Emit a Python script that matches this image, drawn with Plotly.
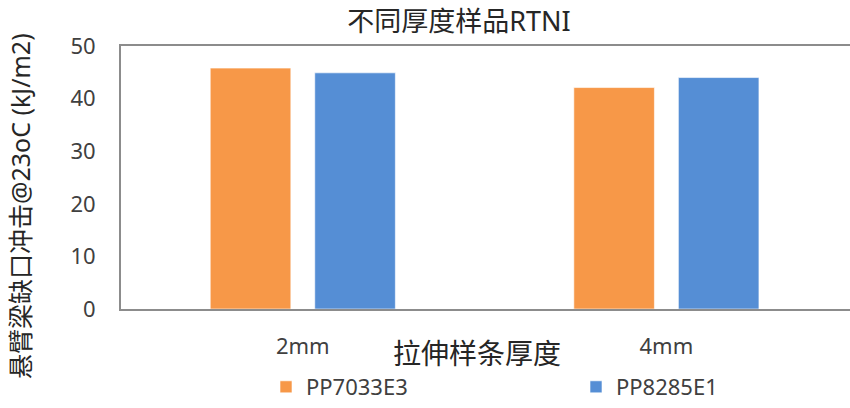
import plotly.graph_objects as go

# Sample thickness categories and notched Izod impact values (kJ/m2)
categories = ["2mm", "4mm"]
series_names = ["PP7033E3", "PP8285E1"]
pp7033e3 = [45.8, 42.1]
pp8285e1 = [44.9, 44.0]
y_ticks = [0, 10, 20, 30, 40, 50]

W, H = 850, 408
L, R, T, B = 121, 0, 46, 99

FONT = "Noto Sans, Noto Sans CJK SC, sans-serif"
TEXT = "#404040"
colors = ["#F79848", "#558ED5"]

fig = go.Figure()
for name, vals, col in zip(series_names, [pp7033e3, pp8285e1], colors):
    fig.add_trace(go.Bar(
        x=categories, y=vals, name=name,
        marker=dict(color=col, line=dict(color="rgba(255,255,255,0.6)", width=1)),
    ))

fig.update_layout(
    width=W, height=H,
    margin=dict(l=L, r=R, t=T, b=B),
    paper_bgcolor="white", plot_bgcolor="white",
    font=dict(family=FONT, color=TEXT),
    barmode="group", bargap=0.425, bargroupgap=0.229,
    title=dict(
        text="不同厚度样品RTNI",
        font=dict(size=27, color="#262626"),
        xref="container", x=459 / W, xanchor="center",
        yref="container", y=1 - 22 / H, yanchor="middle",
    ),
    xaxis=dict(
        range=[-0.5, 1.505],
        showline=True, linecolor="#8C8C8C", linewidth=2, mirror=True,
        showgrid=False, ticks="",
        tickfont=dict(size=22, color=TEXT),
        ticklabelstandoff=17,
    ),
    yaxis=dict(
        range=[0, 50], tickvals=y_ticks,
        showline=True, linecolor="#8C8C8C", linewidth=2, mirror=False,
        showgrid=False, zeroline=False, ticks="",
        tickfont=dict(size=22, color=TEXT),
        ticklabelstandoff=19,
    ),
    legend=dict(
        orientation="h",
        xref="container", x=266 / W, xanchor="left",
        yref="container", y=-0.015, yanchor="bottom",
        entrywidth=265, entrywidthmode="pixels",
        font=dict(size=22, color=TEXT),
        itemclick=False,
    ),
    showlegend=True,
)

# axis titles
fig.add_annotation(
    text="悬臂梁缺口冲击@23oC (kJ/m2)",
    xref="paper", yref="paper",
    x=-(L - 20) / (W - L - R), y=(H - B - 206) / (H - T - B),
    xanchor="center", yanchor="middle",
    textangle=-90, showarrow=False,
    font=dict(size=25, color="#262626"),
)
fig.add_annotation(
    text="拉伸样条厚度",
    xref="paper", yref="paper",
    x=(477 - L) / (W - L - R), y=-(353 - (H - B)) / (H - T - B),
    xanchor="center", yanchor="middle",
    showarrow=False,
    font=dict(size=28, color="#262626"),
)

fig.write_html("out.html")
